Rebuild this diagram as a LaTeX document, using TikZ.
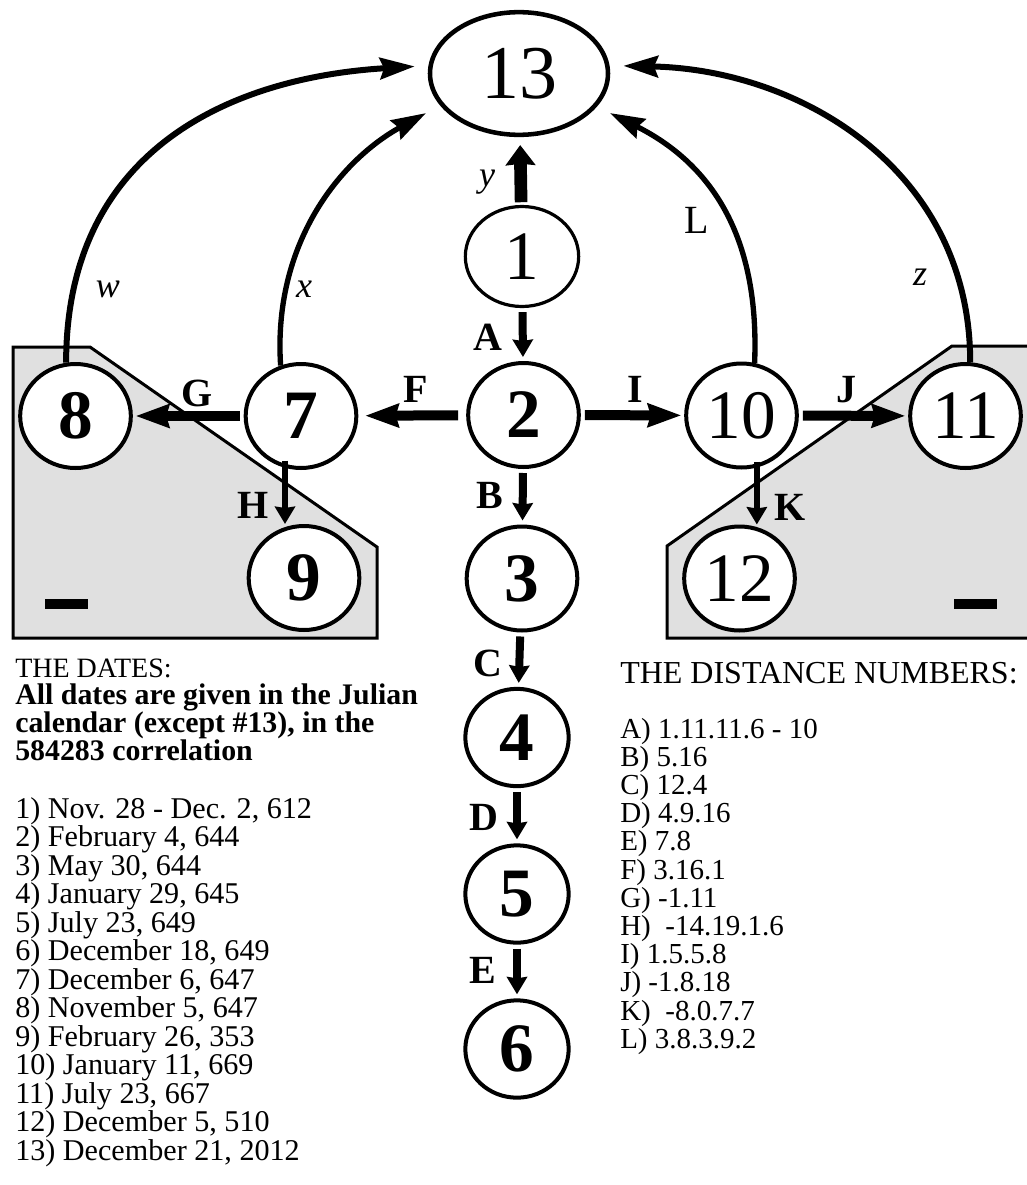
\documentclass[tikz,border=0pt]{standalone}
\usepackage{fontspec}
\setmainfont{Liberation Serif}
\usepackage{tikz}
\usetikzlibrary{arrows.meta,shapes.geometric}
\definecolor{panelgrey}{gray}{0.88}
\newcommand{\circlenum}{\fontsize{52pt}{52pt}\selectfont}
\newcommand{\capletter}{\fontsize{30pt}{30pt}\selectfont\bfseries}
\newcommand{\slantletter}{\fontsize{27pt}{27pt}\selectfont\itshape}
\tikzstyle{datenode} = [ellipse, draw, fill=white, line width=3pt, inner sep=0pt, minimum width=83pt, minimum height=78pt, font=\circlenum]
\tikzstyle{datesmall} = [datenode, minimum width=77.5pt, minimum height=73pt]
\tikzstyle{heavy} = [font=\circlenum\bfseries]
\tikzstyle{fatarrow} = [->, >={Stealth[length=25pt,width=17pt,inset=2pt]}, line width=7.5pt, shorten <=3pt, shorten >=2pt]
\tikzstyle{downarrow} = [->, >={Stealth[length=13pt,width=15pt,inset=1pt]}, line width=6pt, shorten <=3pt, shorten >=3pt]
\tikzstyle{thinarrow} = [downarrow, line width=5pt, shorten <=0pt, shorten >=0pt]
\tikzstyle{uparrow} = [->, >={Stealth[length=15pt,width=22pt,inset=1pt]}, line width=9.5pt, shorten <=2pt, shorten >=6pt]
\tikzstyle{bowarrow} = [->, >={Stealth[length=26pt,width=16pt,inset=3pt]}, line width=4pt]
\tikzstyle{panel} = [fill=panelgrey, draw, line width=2.25pt, line join=miter]
\tikzstyle{edgelabel} = [anchor=base, inner sep=0pt, font=\capletter]
\tikzstyle{bowlabel} = [anchor=base, inner sep=0pt, font=\slantletter]
\tikzstyle{listline} = [anchor=base west, inner sep=0pt]

\begin{document}
\begin{tikzpicture}[x=0.75pt,y=0.75pt]
    \useasboundingbox (0,0) rectangle (1026,-1185);

    % grey panels
    \draw[panel] (13,-347) -- (90,-347) -- (377,-547) -- (377,-638) -- (13,-638) -- cycle;
    \draw[panel] (1040,-346) -- (952,-346) -- (667,-546) -- (667,-638) -- (1040,-638) -- cycle;
    \fill (45,-599) rectangle (88,-609);
    \fill (954,-599) rectangle (997,-609);

    % dates
    \node[datenode, minimum width=133.5pt, minimum height=92pt, line width=3.4pt, font=\fontsize{57pt}{57pt}\selectfont] (d13) at (519,-73.5) {13};
    \node[datenode, minimum width=85pt, minimum height=75pt, line width=2.4pt] (d1) at (522,-256.5) {1};
    \node[datenode, heavy] (d2) at (523.5,-415) {2};
    \node[datenode, heavy] (d3) at (522,-578.5) {3};
    \node[datesmall, heavy] (d4) at (517,-737.5) {4};
    \node[datesmall, heavy] (d5) at (517,-894) {5};
    \node[datesmall, heavy] (d6) at (517,-1049) {6};
    \node[datenode, heavy] (d7) at (301,-416) {7};
    \node[datenode, heavy] (d8) at (75.5,-416) {8};
    \node[datenode, heavy] (d9) at (304,-578) {9};
    \node[datenode] (d10) at (741.5,-415.5) {10};
    \node[datenode] (d11) at (965.5,-416) {11};
    \node[datenode] (d12) at (739.5,-578.5) {12};

    % distance numbers
    \draw[uparrow] (d1) -- (d13);
    \draw[downarrow] (d1) -- (d2);
    \draw[downarrow] (d2) -- (d3);
    \draw[downarrow] (d3) -- (d4);
    \draw[downarrow] (d4) -- (d5);
    \draw[downarrow] (d5) -- (d6);
    \draw[fatarrow, shorten <=6pt, shorten >=5pt] (d2) -- (d7);
    \draw[fatarrow] (d7) -- (d8);
    \draw[fatarrow] (d2) -- (d10);
    \draw[fatarrow] (d10) -- (d11);
    \draw[thinarrow] ([xshift=-12pt,yshift=7pt]d7.south) -- ([xshift=-12pt]d7.south |- d9.north);
    \draw[thinarrow] ([xshift=11.5pt,yshift=6pt]d10.south) -- ([xshift=11.5pt]d10.south |- d12.north);

    % bows to 13
    \draw[bowarrow, line width=4.5pt, shorten >=10.3pt] (d8.100) .. controls +(0,212) and +(-199,-12) .. (d13.175);
    \draw[bowarrow, shorten >=12pt] (d7.112) .. controls +(-8,122) and +(-100,-55) .. (d13.202);
    \draw[bowarrow, shorten >=10.9pt] (d10.76) .. controls +(5,122) and +(118,-59) .. (d13.337);
    \draw[bowarrow, line width=4.5pt, shorten >=10.3pt] (d11.85) .. controls +(0,192) and +(191,-4) .. (d13.5);

    % labels
    \node[edgelabel] (lA) at (488,-350) {A};
    \node[edgelabel] (lB) at (490,-508) {B};
    \node[edgelabel] (lC) at (488,-676) {C};
    \node[edgelabel] (lD) at (484,-830) {D};
    \node[edgelabel] (lE) at (483,-983) {E};
    \node[edgelabel] (lF) at (416,-402) {F};
    \node[edgelabel] (lG) at (197,-406) {G};
    \node[edgelabel] (lH) at (253,-518) {H};
    \node[edgelabel] (lI) at (635,-402) {I};
    \node[edgelabel] (lJ) at (846,-402) {J};
    \node[edgelabel] (lK) at (790,-520) {K};
    \node[edgelabel, font=\fontsize{30pt}{30pt}\selectfont] (lL) at (697,-233) {L};
    \node[bowlabel] (lw) at (108,-297) {w};
    \node[bowlabel] (lx) at (304,-297) {x};
    \node[bowlabel] (ly) at (487,-186) {y};
    \node[bowlabel] (lz) at (920,-285) {z};

    % the dates
    \node[listline, font=\fontsize{21pt}{21pt}\selectfont] (datehead) at (15,-677) {THE DATES:};
    \foreach \t [count=\i] in {{All dates are given in the Julian},{calendar (except \#13), in the},{584283 correlation}}
        \node[listline, font=\fontsize{22.4pt}{22.4pt}\selectfont\bfseries] (note\i) at (15,{-704-28*(\i-1)}) {\t};
    \foreach \t [count=\i] in {{Nov. 28 - Dec. 2, 612},{February 4, 644},{May 30, 644},{January 29, 645},{July 23, 649},{December 18, 649},{December 6, 647},{November 5, 647},{February 26, 353},{January 11, 669},{July 23, 667},{December 5, 510},{December 21, 2012}}
        \node[listline, font=\fontsize{22.6pt}{22.6pt}\selectfont] (dateline\i) at (15,{-818-28.5*(\i-1)}) {\i) \t};

    % the distance numbers
    \node[listline, font=\fontsize{24pt}{24pt}\selectfont] (disthead) at (620,-683) {THE DISTANCE NUMBERS:};
    \foreach \l/\v [count=\i] in {A/{1.11.11.6 - 10},B/5.16,C/12.4,D/4.9.16,E/7.8,F/3.16.1,G/-1.11,H/{\ -14.19.1.6},I/1.5.5.8,J/-1.8.18,K/{\ -8.0.7.7},L/3.8.3.9.2}
        \node[listline, font=\fontsize{21.75pt}{21.75pt}\selectfont] (distline\i) at (620,{-738-28.2*(\i-1)}) {\l) \v};
\end{tikzpicture}
\end{document}
